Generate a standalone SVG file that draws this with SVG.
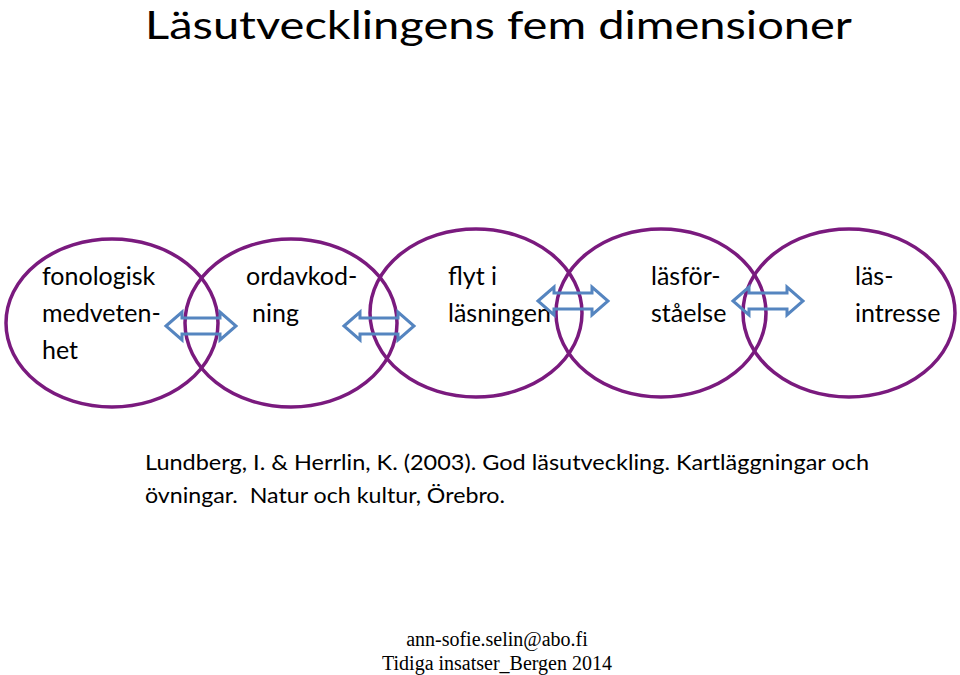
<svg xmlns="http://www.w3.org/2000/svg" width="960" height="675" viewBox="0 0 960 675">
<style>
.ell{fill:none;stroke:#7A1A7E;stroke-width:3.5}
.arr{fill:none;stroke:#5585C0;stroke-width:3;stroke-linejoin:miter}
.lbl{font-family:Lato,"Open Sans","Liberation Sans",sans-serif;font-size:25px;fill:#000}
.ref{font-family:Lato,"Open Sans","Liberation Sans",sans-serif;font-size:22px;fill:#000}
.ft{font-family:"Liberation Serif",serif;font-size:20px;fill:#000}
.ttl{font-family:Lato,"Open Sans","Liberation Sans",sans-serif;font-size:39px;fill:#000}
</style>
<defs>
<path id="dbl" d="M0,0 L16,-14 L16,-8 L54,-8 L54,-14 L70,0 L54,14 L54,8 L16,8 L16,14 Z"/>
</defs>
<rect width="960" height="675" fill="#fff"/>
<text class="ttl" x="145" y="39" textLength="707" lengthAdjust="spacingAndGlyphs">Läsutvecklingens fem dimensioner</text>
<g id="n1">
<ellipse class="ell" cx="112" cy="323" rx="106" ry="84"/>
<text class="lbl" x="42" y="285">fonologisk</text>
<text class="lbl" x="42" y="322">medveten-</text>
<text class="lbl" x="42" y="359">het</text>
</g>
<g id="n2">
<ellipse class="ell" cx="291" cy="323" rx="106" ry="84"/>
<text class="lbl" x="246" y="285">ordavkod-</text>
<text class="lbl" x="252" y="322">ning</text>
</g>
<g id="n3">
<ellipse class="ell" cx="476" cy="313" rx="106" ry="84"/>
<text class="lbl" x="448" y="285">flyt i</text>
<text class="lbl" x="448" y="322">läsningen</text>
</g>
<g id="n4">
<ellipse class="ell" cx="661" cy="313" rx="105" ry="84"/>
<text class="lbl" x="651" y="285">läsför-</text>
<text class="lbl" x="651" y="322">ståelse</text>
</g>
<g id="n5">
<ellipse class="ell" cx="849" cy="313" rx="106" ry="84"/>
<text class="lbl" x="855" y="285">läs-</text>
<text class="lbl" x="855" y="322">intresse</text>
</g>
<g id="connectors">
<use href="#dbl" class="arr" transform="translate(166,326)"/>
<use href="#dbl" class="arr" transform="translate(344,326)"/>
<use href="#dbl" class="arr" transform="translate(538,301)"/>
<use href="#dbl" class="arr" transform="translate(733,301)"/>
</g>
<text class="ref" x="145" y="470" textLength="724" lengthAdjust="spacingAndGlyphs">Lundberg, I. &amp; Herrlin, K. (2003). God läsutveckling. Kartläggningar och</text>
<text class="ref" x="145" y="503" textLength="360" lengthAdjust="spacingAndGlyphs" xml:space="preserve">övningar.  Natur och kultur, Örebro.</text>
<text class="ft" x="497" y="646" text-anchor="middle">ann-sofie.selin@abo.fi</text>
<text class="ft" x="497" y="670" text-anchor="middle">Tidiga insatser_Bergen 2014</text>
</svg>
